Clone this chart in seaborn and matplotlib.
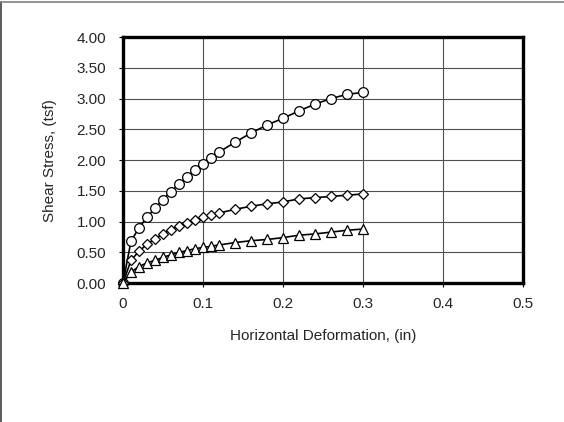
import numpy as np
import pandas as pd
import matplotlib
matplotlib.use('Agg')
import matplotlib.pyplot as plt
import seaborn as sns
from matplotlib.lines import Line2D

# Veriler
deformation = [0.0, 0.01, 0.02, 0.03, 0.04, 0.05, 0.06, 0.07, 0.08, 0.09, 0.10,
               0.11, 0.12, 0.14, 0.16, 0.18, 0.20, 0.22, 0.24, 0.26, 0.28, 0.30]
stress_high = [0.0, 0.68, 0.90, 1.07, 1.22, 1.36, 1.49, 1.61, 1.73, 1.84, 1.94,
               2.04, 2.13, 2.29, 2.44, 2.57, 2.68, 2.80, 2.91, 3.00, 3.07, 3.10]
stress_mid = [0.0, 0.37, 0.52, 0.63, 0.72, 0.80, 0.87, 0.93, 0.98, 1.03, 1.07,
              1.11, 1.14, 1.20, 1.25, 1.29, 1.32, 1.37, 1.39, 1.41, 1.43, 1.45]
stress_low = [0.0, 0.18, 0.27, 0.33, 0.37, 0.42, 0.46, 0.50, 0.53, 0.56, 0.58,
              0.60, 0.62, 0.66, 0.69, 0.71, 0.74, 0.78, 0.80, 0.83, 0.86, 0.88]

x_ticks = [0, 0.1, 0.2, 0.3, 0.4, 0.5]
x_tick_labels = ['0', '0.1', '0.2', '0.3', '0.4', '0.5']
y_ticks = [0.0, 0.5, 1.0, 1.5, 2.0, 2.5, 3.0, 3.5, 4.0]

sns.set_style('white')
plt.rcParams['font.family'] = ['Liberation Sans', 'DejaVu Sans']

fig = plt.figure(figsize=(5.64, 4.22), dpi=100)
ax = fig.add_axes([0.218, 0.329, 0.709, 0.583])

series = [(stress_high, 'o', 7), (stress_mid, 'D', 5), (stress_low, '^', 7)]
for values, marker, size in series:
    sns.lineplot(x=deformation, y=values, ax=ax, color='black', linewidth=1.2,
                 marker=marker, markersize=size, markerfacecolor='white',
                 markeredgecolor='black', markeredgewidth=0.9, sort=False,
                 clip_on=False, zorder=3)

ax.set_xlim(0, 0.5)
ax.set_ylim(0, 4)
ax.set_xticks(x_ticks)
ax.set_xticklabels(x_tick_labels)
ax.set_yticks(y_ticks)
ax.set_yticklabels([f'{v:.2f}' for v in y_ticks])
ax.grid(True, color='#505050', linewidth=0.8)
ax.set_axisbelow(True)

for spine in ax.spines.values():
    spine.set_visible(True)
    spine.set_color('black')
    spine.set_linewidth(2.4)

ax.tick_params(axis='y', direction='out', length=3, width=0.8, color='black',
               labelsize=11, pad=9, left=True)
ax.tick_params(axis='x', direction='out', length=3, width=0.8, color='black',
               labelsize=11, pad=7, bottom=True)
ax.set_xlabel('Horizontal Deformation, (in)', fontsize=11, labelpad=13)
ax.set_ylabel('Shear Stress, (tsf)', fontsize=11, labelpad=14)

# Dış çerçeve (sol ve üst kenar)
fig.add_artist(Line2D([0.002, 0.002], [0.0, 0.995], transform=fig.transFigure,
                      color='#404040', linewidth=1.2))
fig.add_artist(Line2D([0.002, 1.0], [0.995, 0.995], transform=fig.transFigure,
                      color='#808080', linewidth=1.2))

fig.savefig('out.png', dpi=100)
plt.close()
